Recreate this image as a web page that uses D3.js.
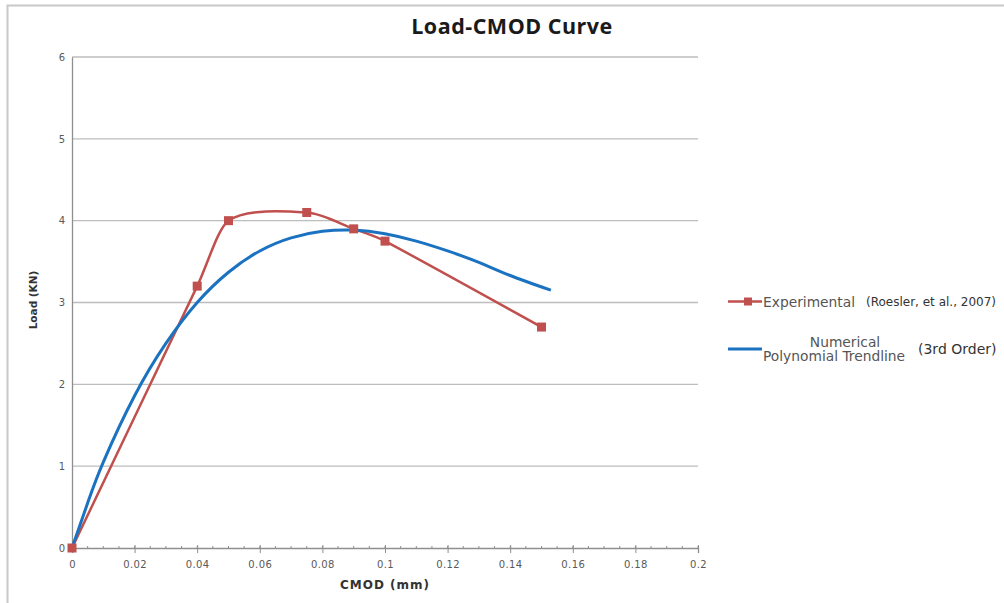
<!DOCTYPE html>
<html>
<head>
<meta charset="utf-8">
<script src="https://cdn.jsdelivr.net/npm/d3@7"></script>
<style>
  body { margin: 0; background: #fff; }
  svg { display: block; }
  text { font-family: "DejaVu Sans", sans-serif; }
</style>
</head>
<body>
<div id="chart"></div>
<script>
// experimental points (Roesler et al., 2007)
var expCmod = [0, 0.04, 0.05, 0.075, 0.09, 0.1, 0.15];
var expLoad = [0, 3.2, 4.0, 4.1, 3.9, 3.75, 2.7];

// numerical trendline
var numCmod = [0, 0.005, 0.01, 0.02, 0.03, 0.04, 0.05, 0.06, 0.07, 0.08, 0.09, 0.1, 0.11, 0.12, 0.13, 0.14, 0.153];
var numLoad = [0, 0.55, 1.05, 1.86, 2.5, 3.0, 3.37, 3.63, 3.79, 3.87, 3.885, 3.84, 3.75, 3.63, 3.49, 3.33, 3.15];

var xTicks = [0, 0.02, 0.04, 0.06, 0.08, 0.1, 0.12, 0.14, 0.16, 0.18, 0.2];
var xTickLabels = ["0", "0.02", "0.04", "0.06", "0.08", "0.1", "0.12", "0.14", "0.16", "0.18", "0.2"];
var yTicks = [0, 1, 2, 3, 4, 5, 6];

var width = 1004, height = 603;
var red = "#c0504d", blue = "#1a72c0";

var x = d3.scaleLinear().domain([0, 0.2]).range([72, 698]);
var y = d3.scaleLinear().domain([0, 6]).range([548, 57]);

var svg = d3.select("#chart").append("svg")
    .attr("width", width)
    .attr("height", height);

// outer frame (only top and left edges visible)
svg.append("path")
    .attr("d", "M7.5," + height + "V5.5H" + width)
    .attr("fill", "none")
    .attr("stroke", "#c8c8c8")
    .attr("stroke-width", 2);

// title
svg.append("text")
    .attr("x", 512)
    .attr("y", 34)
    .attr("text-anchor", "middle")
    .style("font-family", "'Open Sans', sans-serif")
    .style("font-weight", "bold")
    .style("font-size", "21.5px")
    .style("letter-spacing", "0.5px")
    .attr("fill", "#1a1a1a")
    .text("Load-CMOD Curve");

// gridlines
svg.append("g")
    .selectAll("line")
    .data(yTicks.slice(1))
    .enter()
    .append("line")
    .attr("x1", x(0))
    .attr("x2", x(0.2))
    .attr("y1", function(d){ return y(d); })
    .attr("y2", function(d){ return y(d); })
    .attr("stroke", "#bdbdbd")
    .attr("stroke-width", 1.3);

// y axis
var yAxis = d3.axisLeft(y).tickValues(yTicks).tickSize(0).tickPadding(14).tickFormat(d3.format("d"));
var gy = svg.append("g")
    .attr("transform", "translate(" + x(0) + ",0)")
    .call(yAxis);
gy.select(".domain").attr("stroke", "#8f8f8f").attr("stroke-width", 1.3);
gy.selectAll("text")
    .attr("fill", "#595959")
    .style("font-size", "10px")
    .attr("text-anchor", "middle")
    .attr("dx", "4");

// x axis, major ticks and minor ticks
var minorTicks = d3.range(0, 41).map(function(i){ return i * 0.005; });
svg.append("g")
    .selectAll("line")
    .data(minorTicks)
    .enter()
    .append("line")
    .attr("x1", function(d){ return x(d); })
    .attr("x2", function(d){ return x(d); })
    .attr("y1", y(0) - 2)
    .attr("y2", y(0) + 1)
    .attr("stroke", "#8f8f8f");

var xAxis = d3.axisBottom(x).tickValues(xTicks).tickSize(5).tickPadding(8)
    .tickFormat(function(d, i){ return xTickLabels[i]; });
var gx = svg.append("g")
    .attr("transform", "translate(0," + y(0) + ")")
    .call(xAxis);
gx.select(".domain").attr("stroke", "#8f8f8f").attr("stroke-width", 1.3);
gx.selectAll(".tick line").attr("stroke", "#8f8f8f").attr("y1", -3);
gx.selectAll("text")
    .attr("fill", "#595959")
    .style("font-size", "10px")
    .style("letter-spacing", "0.4px");

// axis titles
svg.append("text")
    .attr("x", 385)
    .attr("y", 589)
    .attr("text-anchor", "middle")
    .style("font-weight", "bold")
    .style("font-size", "12px")
    .style("letter-spacing", "1px")
    .attr("fill", "#333")
    .text("CMOD (mm)");

svg.append("text")
    .attr("transform", "translate(37,300) rotate(-90)")
    .attr("text-anchor", "middle")
    .style("font-weight", "bold")
    .style("font-size", "10.5px")
    .attr("fill", "#333")
    .text("Load (KN)");

// series
var expData = expCmod.map(function(d, i){ return [d, expLoad[i]]; });
var numData = numCmod.map(function(d, i){ return [d, numLoad[i]]; });

// spreadsheet-style smoothed line: bezier handles from neighbours,
// kept inside each segment's x span so the curve doesn't fold back
function smoothPath(data){
    var pts = data.map(function(d){ return [x(d[0]), y(d[1])]; });
    var p = d3.path();
    p.moveTo(pts[0][0], pts[0][1]);
    for (var i = 0; i < pts.length - 1; i++) {
        var p0 = pts[i - 1] || pts[i],
            p1 = pts[i],
            p2 = pts[i + 1],
            p3 = pts[i + 2] || pts[i + 1];
        var span = (p2[0] - p1[0]) / 3;
        var t1 = [(p2[0] - p0[0]) / 6, (p2[1] - p0[1]) / 6];
        var t2 = [(p3[0] - p1[0]) / 6, (p3[1] - p1[1]) / 6];
        if (Math.abs(t1[0]) > span) { var k1 = span / Math.abs(t1[0]); t1 = [t1[0] * k1, t1[1] * k1]; }
        if (Math.abs(t2[0]) > span) { var k2 = span / Math.abs(t2[0]); t2 = [t2[0] * k2, t2[1] * k2]; }
        p.bezierCurveTo(p1[0] + t1[0], p1[1] + t1[1], p2[0] - t2[0], p2[1] - t2[1], p2[0], p2[1]);
    }
    return p.toString();
}

var numLine = d3.line()
    .x(function(d){ return x(d[0]); })
    .y(function(d){ return y(d[1]); })
    .curve(d3.curveNatural);

svg.append("path")
    .attr("d", smoothPath(expData))
    .attr("fill", "none")
    .attr("stroke", red)
    .attr("stroke-width", 2.5);

svg.append("path")
    .datum(numData)
    .attr("d", numLine)
    .attr("fill", "none")
    .attr("stroke", blue)
    .attr("stroke-width", 3);

svg.append("g")
    .selectAll("rect")
    .data(expData)
    .enter()
    .append("rect")
    .attr("x", function(d){ return x(d[0]) - 4.5; })
    .attr("y", function(d){ return y(d[1]) - 4.5; })
    .attr("width", 9)
    .attr("height", 9)
    .attr("fill", red);

// legend
var legend = svg.append("g");
legend.append("line")
    .attr("x1", 728).attr("x2", 762)
    .attr("y1", 301.5).attr("y2", 301.5)
    .attr("stroke", red).attr("stroke-width", 2.5);
legend.append("rect")
    .attr("x", 744).attr("y", 297.5)
    .attr("width", 8).attr("height", 8)
    .attr("fill", red);
legend.append("text")
    .attr("x", 763).attr("y", 306.5)
    .style("font-size", "13.8px")
    .attr("fill", "#555")
    .text("Experimental");
legend.append("text")
    .attr("x", 866).attr("y", 305.5)
    .style("font-size", "12px")
    .attr("fill", "#333")
    .text("(Roesler, et al., 2007)");

legend.append("line")
    .attr("x1", 728).attr("x2", 762)
    .attr("y1", 349).attr("y2", 349)
    .attr("stroke", blue).attr("stroke-width", 3);
legend.append("text")
    .attr("x", 845).attr("y", 347)
    .attr("text-anchor", "middle")
    .style("font-size", "13.8px")
    .attr("fill", "#555")
    .text("Numerical");
legend.append("text")
    .attr("x", 763).attr("y", 361)
    .style("font-size", "13.8px")
    .attr("fill", "#555")
    .text("Polynomial Trendline");
legend.append("text")
    .attr("x", 918).attr("y", 354)
    .style("font-size", "14px")
    .attr("fill", "#333")
    .text("(3rd Order)");
</script>
</body>
</html>
